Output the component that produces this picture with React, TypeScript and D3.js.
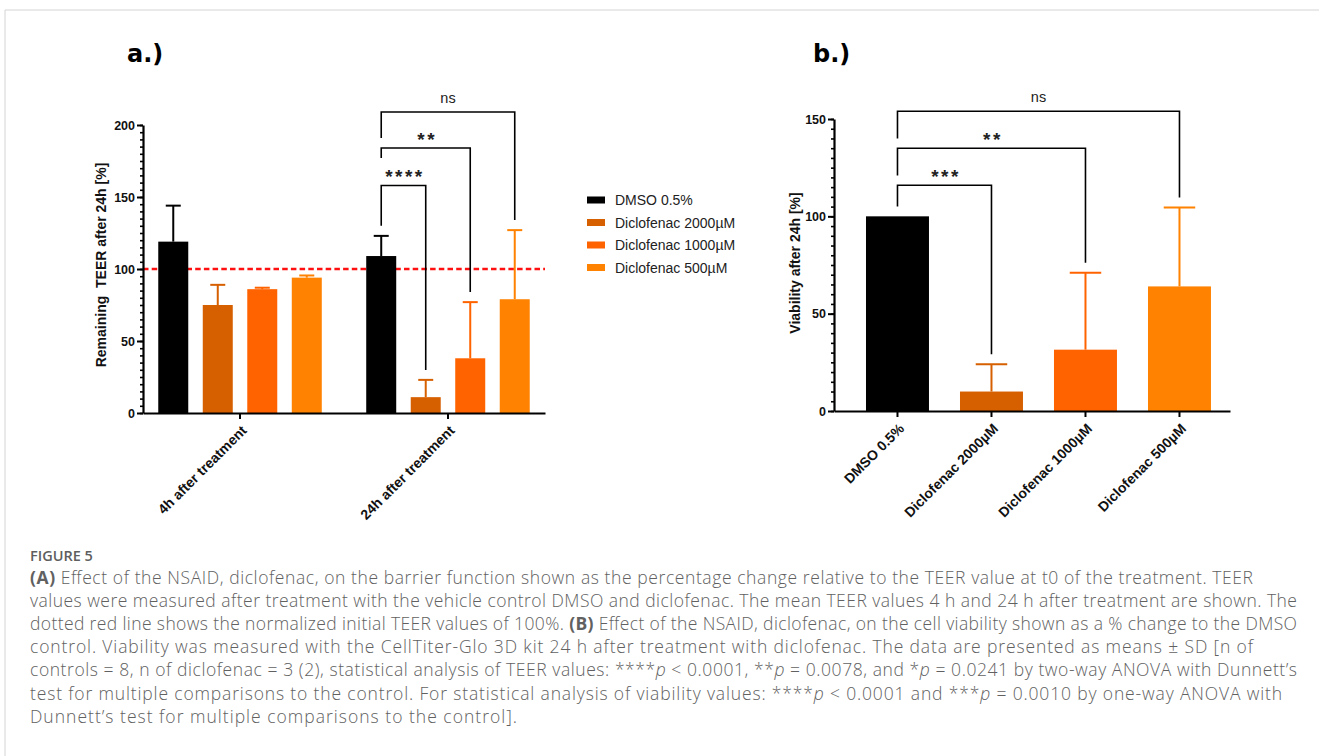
import React, { useEffect, useRef } from "react";
import * as d3 from "d3";

// a.) TEER after treatment
const timePoints = ["4h after treatment", "24h after treatment"];
const treatments = ["DMSO 0.5%", "Diclofenac 2000µM", "Diclofenac 1000µM", "Diclofenac 500µM"];
const barColors = ["#000000", "#D65F00", "#FF6300", "#FF8200"];
const teer4h = [119, 75, 86, 94];
const teer4hSd = [25, 14, 1, 1.5];
const teer24h = [109, 11, 38, 79];
const teer24hSd = [14, 12, 39, 48];
const teerTicks = [0, 50, 100, 150, 200];
const teerSigLabels = ["****", "**", "ns"];
const teerSigTop = [158, 184, 209];
const teerSigLeftEnd = [130, 177, 191];

// b.) viability after 24h
const viability = [100, 10, 31.5, 64];
const viabilitySd = [0, 14, 39.5, 40.5];
const viabilityTicks = [0, 50, 100, 150];
const viaSigLabels = ["***", "**", "ns"];
const viaSigTop = [116, 135, 154];
const viaSigLeftEnd = [105, 121, 140];

const FONT = "'Liberation Sans', Arial, sans-serif";

const captionLines: { parts: [string, string][]; end: number }[] = [
  { parts: [["b", "(A)"], ["", " Effect of the NSAID, diclofenac, on the barrier function shown as the percentage change relative to the TEER value at t0 of the treatment. TEER"]], end: 1253 },
  { parts: [["", "values were measured after treatment with the vehicle control DMSO and diclofenac. The mean TEER values 4 h and 24 h after treatment are shown. The"]], end: 1297 },
  { parts: [["", "dotted red line shows the normalized initial TEER values of 100%. "], ["b", "(B)"], ["", " Effect of the NSAID, diclofenac, on the cell viability shown as a % change to the DMSO"]], end: 1297 },
  { parts: [["", "control. Viability was measured with the CellTiter-Glo 3D kit 24 h after treatment with diclofenac. The data are presented as means ± SD [n of"]], end: 1253 },
  { parts: [["", "controls = 8, n of diclofenac = 3 (2), statistical analysis of TEER values: ****"], ["i", "p"], ["", " < 0.0001, **"], ["i", "p"], ["", " = 0.0078, and *"], ["i", "p"], ["", " = 0.0241 by two-way ANOVA with Dunnett’s"]], end: 1297 },
  { parts: [["", "test for multiple comparisons to the control. For statistical analysis of viability values: ****"], ["i", "p"], ["", " < 0.0001 and ***"], ["i", "p"], ["", " = 0.0010 by one-way ANOVA with"]], end: 1282 },
  { parts: [["", "Dunnett’s test for multiple comparisons to the control]."]], end: 517 },
];

function yAxis(g, y, ticks, max, x) {
  const minor = g.append("g").attr("transform", `translate(${x},0)`)
    .call(d3.axisLeft(y).tickValues(d3.range(0, max + 1, 5)).tickSize(3).tickFormat(() => ""));
  minor.select(".domain").remove();
  minor.selectAll("line").attr("stroke-width", 1.6);
  const major = g.append("g").attr("transform", `translate(${x},0)`)
    .call(d3.axisLeft(y).tickValues(ticks).tickSize(6).tickSizeOuter(0));
  major.select(".domain").attr("stroke-width", 2.2);
  major.selectAll(".tick line").attr("stroke-width", 2);
  major.selectAll("text").attr("font-family", FONT).attr("font-weight", "bold")
    .attr("font-size", 12.5).attr("fill", "#111").attr("x", -8);
}

function bracket(g, x1, x2, yTop, yLeft, yRight, label, isStars) {
  g.append("path")
    .attr("d", `M${x1},${yLeft}V${yTop}H${x2}V${yRight}`)
    .attr("fill", "none").attr("stroke", "#000").attr("stroke-width", 1.6);
  g.append("text")
    .attr("x", (x1 + x2) / 2 + (isStars ? 1.5 : 0))
    .attr("y", isStars ? yTop - 2 : yTop - 9)
    .attr("text-anchor", "middle")
    .attr("font-family", FONT)
    .attr("font-weight", isStars ? "bold" : "normal")
    .attr("font-size", isStars ? 19 : 14.5)
    .attr("letter-spacing", isStars ? 2.5 : 0)
    .attr("fill", "#222")
    .text(label);
}

function xLabels(axisG) {
  axisG.selectAll("text").attr("font-family", FONT).attr("font-weight", "bold").attr("font-size", 14)
    .attr("fill", "#111").attr("text-anchor", "end").attr("x", 0).attr("y", 0).attr("dy", "0.35em")
    .attr("transform", "translate(4,15) rotate(-45)");
}

function App() {
  const ref = useRef(null);

  useEffect(() => {
    const root = d3.select(ref.current);
    root.selectAll("*").remove();

    // ---------- a.) ----------
    const a = root.append("g");
    const yA = d3.scaleLinear().domain([0, 200]).range([413, 125]);
    const x0 = d3.scaleBand().domain(timePoints).range([143, 545]).paddingInner(0.144).paddingOuter(0.0385);
    const x1 = d3.scaleBand().domain(treatments).range([0, x0.bandwidth()]).paddingInner(0.326).paddingOuter(0.163);
    const cx = (t, s) => x0(t) + x1(s) + x1.bandwidth() / 2;

    a.append("text").attr("x", 127).attr("y", 62).attr("font-family", "'DejaVu Sans', Verdana, sans-serif")
      .attr("font-weight", "bold").attr("font-size", 24).text("a.)");

    // reference line at 100 %
    a.append("line").attr("x1", 143).attr("x2", 545).attr("y1", yA(100)).attr("y2", yA(100))
      .attr("stroke", "#ff1010").attr("stroke-width", 2.6).attr("stroke-dasharray", "5.5,3.2");

    const teerRows = timePoints.flatMap((t, gi) => treatments.map((s, si) => ({
      t, s, si,
      v: gi === 0 ? teer4h[si] : teer24h[si],
      sd: gi === 0 ? teer4hSd[si] : teer24hSd[si],
    })));

    a.selectAll(".bar").data(teerRows).join("rect").classed("bar", true)
      .attr("x", (d) => x0(d.t) + x1(d.s))
      .attr("y", (d) => yA(d.v))
      .attr("width", x1.bandwidth())
      .attr("height", (d) => yA(0) - yA(d.v))
      .attr("fill", (d) => barColors[d.si]);

    const errA = a.selectAll(".err").data(teerRows.filter((d) => d.sd > 0)).join("g").classed("err", true)
      .attr("stroke", (d) => barColors[d.si]).attr("stroke-width", 2);
    errA.append("line").attr("x1", (d) => cx(d.t, d.s)).attr("x2", (d) => cx(d.t, d.s))
      .attr("y1", (d) => yA(d.v)).attr("y2", (d) => yA(d.v + d.sd));
    errA.append("line").attr("x1", (d) => cx(d.t, d.s) - x1.bandwidth() / 4).attr("x2", (d) => cx(d.t, d.s) + x1.bandwidth() / 4)
      .attr("y1", (d) => yA(d.v + d.sd)).attr("y2", (d) => yA(d.v + d.sd));

    yAxis(a, yA, teerTicks, 200, 143);

    const xaA = a.append("g").attr("transform", `translate(0,${yA(0)})`)
      .call(d3.axisBottom(x0).tickSize(6).tickSizeOuter(0));
    xaA.select(".domain").attr("stroke-width", 2.2);
    xaA.selectAll(".tick line").attr("stroke-width", 2);
    xLabels(xaA);

    a.append("text").attr("transform", `translate(106,265) rotate(-90)`).attr("text-anchor", "middle")
      .attr("font-family", FONT).attr("font-weight", "bold").attr("font-size", 14).attr("fill", "#111")
      .attr("xml:space", "preserve")
      .text("Remaining  TEER after 24h [%]");

    const t24 = timePoints[1];
    treatments.slice(1).forEach((s, i) => {
      const top = teer24h[i + 1] + teer24hSd[i + 1];
      bracket(a, cx(t24, treatments[0]), cx(t24, s), yA(teerSigTop[i]), yA(teerSigLeftEnd[i]),
        yA(top) - 10, teerSigLabels[i], teerSigLabels[i] !== "ns");
    });

    // legend
    const leg = root.append("g");
    treatments.forEach((s, i) => {
      const ly = 200 + i * 22.5;
      leg.append("rect").attr("x", 587).attr("y", ly - 3.5).attr("width", 18).attr("height", 7).attr("fill", barColors[i]);
      leg.append("text").attr("x", 615).attr("y", ly + 5).attr("font-family", FONT).attr("font-size", 14)
        .attr("fill", "#222").text(s);
    });

    // ---------- b.) ----------
    const b = root.append("g");
    const yB = d3.scaleLinear().domain([0, 150]).range([411, 119]);
    const xB = d3.scaleBand().domain(treatments).range([834, 1230]).paddingInner(0.33).paddingOuter(0.2714).align(0.627);
    const bx = (s) => xB(s) + xB.bandwidth() / 2;

    b.append("text").attr("x", 813).attr("y", 62).attr("font-family", "'DejaVu Sans', Verdana, sans-serif")
      .attr("font-weight", "bold").attr("font-size", 24).text("b.)");

    const viaRows = treatments.map((s, si) => ({ s, si, v: viability[si], sd: viabilitySd[si] }));

    b.selectAll(".bar").data(viaRows).join("rect").classed("bar", true)
      .attr("x", (d) => xB(d.s))
      .attr("y", (d) => yB(d.v))
      .attr("width", xB.bandwidth())
      .attr("height", (d) => yB(0) - yB(d.v))
      .attr("fill", (d) => barColors[d.si]);

    const errB = b.selectAll(".err").data(viaRows.filter((d) => d.sd > 0)).join("g").classed("err", true)
      .attr("stroke", (d) => barColors[d.si]).attr("stroke-width", 2);
    errB.append("line").attr("x1", (d) => bx(d.s)).attr("x2", (d) => bx(d.s))
      .attr("y1", (d) => yB(d.v)).attr("y2", (d) => yB(d.v + d.sd));
    errB.append("line").attr("x1", (d) => bx(d.s) - xB.bandwidth() / 4).attr("x2", (d) => bx(d.s) + xB.bandwidth() / 4)
      .attr("y1", (d) => yB(d.v + d.sd)).attr("y2", (d) => yB(d.v + d.sd));

    yAxis(b, yB, viabilityTicks, 150, 834);

    const xaB = b.append("g").attr("transform", `translate(0,${yB(0)})`)
      .call(d3.axisBottom(xB).tickSize(6).tickSizeOuter(0));
    xaB.select(".domain").attr("stroke-width", 2.2);
    xaB.selectAll(".tick line").attr("stroke-width", 2);
    xLabels(xaB);

    b.append("text").attr("transform", `translate(800,263) rotate(-90)`).attr("text-anchor", "middle")
      .attr("font-family", FONT).attr("font-weight", "bold").attr("font-size", 14).attr("fill", "#111")
      .text("Viability after 24h [%]");

    treatments.slice(1).forEach((s, i) => {
      const top = viability[i + 1] + viabilitySd[i + 1];
      bracket(b, bx(treatments[0]), bx(s), yB(viaSigTop[i]), yB(viaSigLeftEnd[i]),
        yB(top) - 10, viaSigLabels[i], viaSigLabels[i] !== "ns");
    });
  }, []);

  return (
    <svg width={1319} height={756} style={{ position: "absolute", left: 0, top: 0, background: "#fff" }}>
      <rect x={0} y={0} width={1319} height={756} fill="#fff" />
      <path d="M5,756V10H1319" fill="none" stroke="#d4d4d4" strokeWidth={1} />
      <g ref={ref} />
      <text x={30} y={561} fontFamily="'Open Sans', sans-serif" fontSize={14.5} fontWeight={600} fill="#5e5e5e">FIGURE 5</text>
      {captionLines.map((line, i) => (
        <text
          key={i}
          x={30}
          y={583.5 + i * 23.2}
          fontFamily="'Open Sans', sans-serif"
          fontSize={17.5}
          fontWeight={300}
          fill="#616161"
          textLength={line.end - 30}
          lengthAdjust="spacing"
        >
          {line.parts.map(([style, txt], j) => (
            <tspan key={j} fontWeight={style === "b" ? 700 : undefined} fontStyle={style === "i" ? "italic" : undefined}>
              {txt}
            </tspan>
          ))}
        </text>
      ))}
    </svg>
  );
}

export default App;
